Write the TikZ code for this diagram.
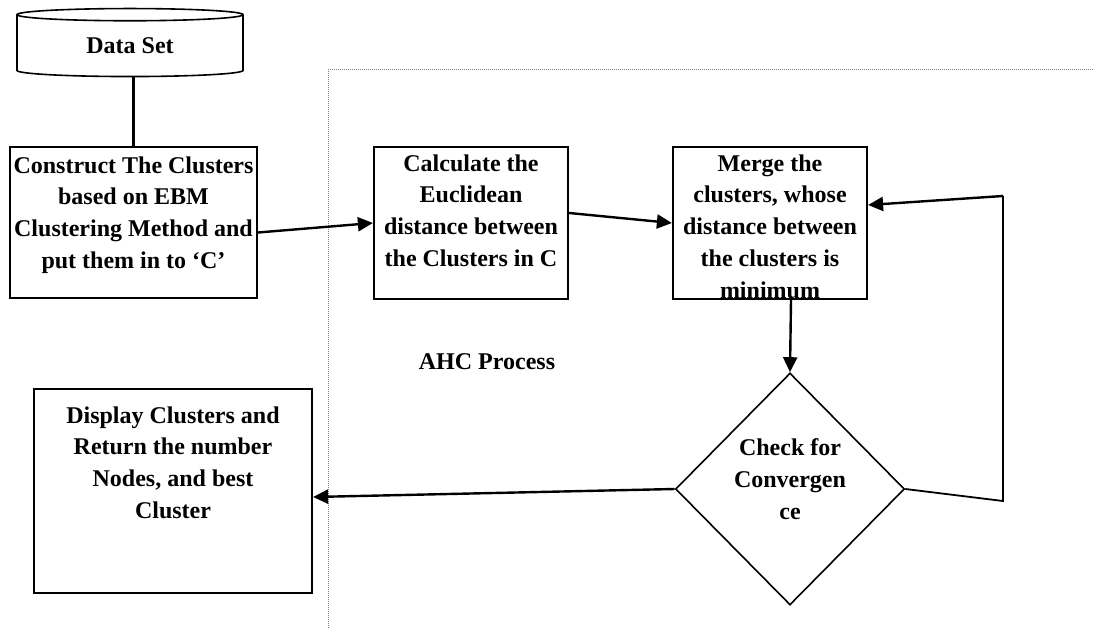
\documentclass[tikz,border=0pt]{standalone}
\usepackage{fontspec}
\setmainfont{Liberation Serif}
\usetikzlibrary{shapes.geometric,arrows.meta}
\begin{document}
\begin{tikzpicture}[x=1pt, y=-1pt]
		\tikzstyle{every node} = [font = \fontsize{24}{31.7}\selectfont\bfseries, align = center]
		\tikzstyle{box} = [draw, rectangle, line width = 2.2pt, inner sep = 0pt]
		\tikzstyle{arr} = [line width = 2.4pt, -{Triangle[length = 15pt, width = 14pt]}]
		\useasboundingbox (0,0) rectangle (1093,628);

		% AHC frame (dotted)
		\draw [gray, densely dotted, line width = 1pt] (328,628) -- (328,70) -- (1093,70);
		\node (ahc) at (487,362) {AHC Process};

		% data set
		\node [draw, cylinder, shape border rotate = 90, aspect = .14, line width = 1.6pt,
			minimum width = 226pt, minimum height = 68pt, inner sep = 0pt] (data) at (130,46) {Data Set};

		% boxes
		\node [box, minimum width = 247pt, minimum height = 151pt] (cons) at (133.5,222.5) {};
		\node (consT) at (133.5,215) {Construct The Clusters\\based on EBM\\Clustering Method and\\put them in to `C'};

		\node [box, minimum width = 194pt, minimum height = 152pt] (calc) at (471,223) {};
		\node (calcT) at (471,210.5) {Calculate the\\Euclidean\\distance between\\the Clusters in C};

		\node [box, minimum width = 194pt, minimum height = 152pt] (merge) at (770,223) {};
		\node (mergeT) at (770,226.5) {Merge the\\clusters, whose\\distance between\\the clusters is\\minimum};

		\node [diamond, draw, line width = 1.6pt, minimum width = 229pt, minimum height = 232pt,
			inner sep = 0pt] (conv) at (790,489) {};
		\node (convT) at (790,479) {Check for\\Convergen\\ce};

		\node [box, minimum width = 278pt, minimum height = 204pt] (disp) at (173,491) {};
		\node (dispT) at (173,462.5) {Display Clusters and\\Return the number\\Nodes, and best\\Cluster};

		% connectors
		\draw [line width = 2.4pt] (data.south -| cons.north) -- (cons.north);
		\draw [arr] ([yshift = -10pt]cons.east) -- (calc.west);
		\draw [arr] ([yshift = 10pt]calc.east) -- (merge.west);
		\draw [arr] ([xshift = 21pt]merge.south) -- (conv.north);
		\draw [arr] (conv.west) -- ([yshift = -6pt]disp.east);

		\coordinate (back1) at (1003,501);
		\coordinate (back2) at (1003,196);
		\draw [line width = 1.8pt] (conv.east) -- (back1) -- (back2);
		\draw [arr] (back2) -- ([yshift = 18pt]merge.east);
\end{tikzpicture}
\end{document}
